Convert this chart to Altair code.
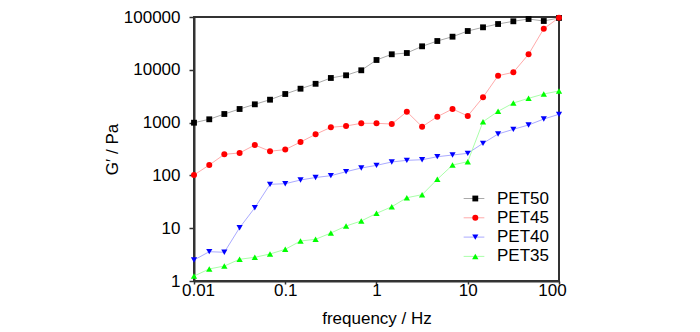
import altair as alt
import pandas as pd

FONT = "Liberation Sans, Arial, sans-serif"
FS = 17

freq = [0.01, 0.0147, 0.0215, 0.0316, 0.0464, 0.0681, 0.1, 0.147, 0.215, 0.316,
        0.464, 0.681, 1, 1.47, 2.15, 3.16, 4.64, 6.81, 10, 14.7, 21.5, 31.6,
        46.4, 68.1, 100]

pet50 = [995, 1155, 1455, 1810, 2220, 2715, 3480, 4385, 5430, 7000, 7870, 9790,
         15340, 19680, 20800, 27860, 35100, 42370, 54300, 63800, 73650, 82950,
         91600, 84000, 96000]
pet45 = [102, 157, 251, 266, 376, 287, 308, 429, 600, 815, 862, 970, 970, 940,
         1608, 836, 1294, 1811, 1334, 3013, 7730, 8970, 19680, 60000, 97000]
pet40 = [2.5, 3.59, 3.5, 10.2, 24.4, 67.8, 69.6, 81.8, 91.2, 98.7, 117.5, 138,
         155, 179.5, 193, 198, 226, 243, 262, 405, 608, 746, 901, 1170, 1436]
pet35 = [1.24, 1.69, 1.92, 2.58, 2.81, 3.25, 3.98, 5.72, 6.16, 8.11, 11.0, 13.7,
         19.1, 25.5, 37.8, 43.1, 84.4, 157, 182, 1040, 1637, 2350, 2885, 3481, 3965]

names = ["PET50", "PET45", "PET40", "PET35"]
marker_colors = ["#000000", "#ff0000", "#0000ff", "#00ff00"]
line_colors = ["#aaaaaa", "#ffaaaa", "#aaaaff", "#aaffaa"]
shapes = ["square", "circle", "triangle-down", "triangle-up"]
marker_sizes = [34, 40, 55, 55]

x_ticks = [0.01, 0.1, 1, 10, 100]
y_ticks = [1, 10, 100, 1000, 10000, 100000]

rows = []
for name, vals in zip(names, [pet50, pet45, pet40, pet35]):
    for f, v in zip(freq, vals):
        rows.append({"series": name, "freq": f, "G": v})
df = pd.DataFrame(rows)

x_label_offset = {
    "condition": [
        {"test": "datum.value <= 0.011", "value": 4},
        {"test": "datum.value >= 99", "value": -7},
    ],
    "value": 0,
}

x_enc = alt.X("freq:Q",
              scale=alt.Scale(type="log", domain=[0.01, 100], nice=False),
              axis=alt.Axis(values=x_ticks, format="~g", title="frequency / Hz",
                            labelFlush=False, tickSize=3, labelPadding=-2,
                            labelOffset=x_label_offset, titlePadding=12))
y_enc = alt.Y("G:Q",
              scale=alt.Scale(type="log", domain=[1, 100000], nice=False),
              axis=alt.Axis(values=y_ticks, format="d", title="G′ / Pa",
                            tickSize=5, labelPadding=9, titlePadding=2))

line_legend = alt.Legend(title=None, orient="none", legendX=271.5, legendY=173,
                         symbolType="M-2.3,0H2.3", symbolSize=81, symbolStrokeWidth=1,
                         labelFont=FONT, labelFontSize=FS, labelOffset=14.5,
                         rowPadding=1.3, padding=0)
point_legend = alt.Legend(title=None, orient="none", legendX=272.8, legendY=173,
                          symbolSize=20, labelFont=FONT, labelFontSize=FS,
                          labelOffset=8, rowPadding=1.3, padding=0,
                          labelOpacity=0, labelExpr="' '")

lines = alt.Chart(df).mark_line(strokeWidth=1).encode(
    x=x_enc, y=y_enc,
    color=alt.Color("series:N", scale=alt.Scale(domain=names, range=line_colors),
                    legend=line_legend),
)

points = alt.Chart(df).mark_point(filled=True, opacity=1).encode(
    x=x_enc, y=y_enc,
    color=alt.Color("series:N", scale=alt.Scale(domain=names, range=marker_colors),
                    legend=point_legend),
    shape=alt.Shape("series:N", scale=alt.Scale(domain=names, range=shapes),
                    legend=point_legend),
    size=alt.Size("series:N", scale=alt.Scale(domain=names, range=marker_sizes),
                  legend=None),
)

chart = alt.layer(lines, points).resolve_scale(
    color="independent", shape="independent", size="independent"
).resolve_legend(
    color="independent", shape="independent", size="independent"
).properties(
    width=365, height=264,
    autosize=alt.AutoSizeParams(type="none"),
    padding={"left": 194, "top": 17, "right": 141, "bottom": 51},
    background="white",
).configure_view(
    stroke="#333333", strokeWidth=2
).configure_axis(
    grid=False, domainColor="#333333", domainWidth=2, tickColor="#333333",
    tickWidth=1.5, labelFont=FONT, labelFontSize=FS, labelColor="black",
    titleFont=FONT, titleFontSize=FS, titleFontWeight="normal", titleColor="black",
)

chart.save("out.html", embed_options={"renderer": "svg", "actions": False})
